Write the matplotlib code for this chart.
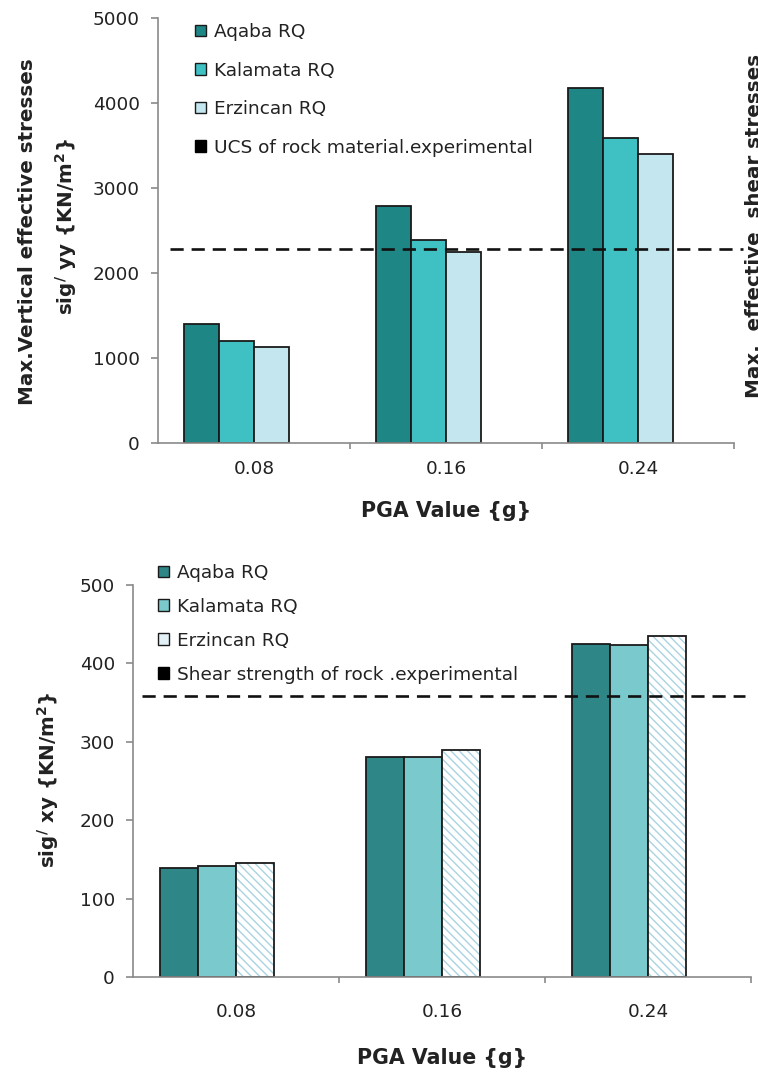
import matplotlib
matplotlib.use("Agg")
import matplotlib.pyplot as plt
from matplotlib.patches import Patch
import numpy as np

plt.rcParams["font.family"] = "DejaVu Sans"
plt.rcParams["mathtext.default"] = "bf"

pga_labels = ["0.08", "0.16", "0.24"]
series_names = ["Aqaba RQ", "Kalamata RQ", "Erzincan RQ"]

# top chart: max vertical effective stress {KN/m2}
sig_yy_aqaba = [1400, 2790, 4180]
sig_yy_kalamata = [1200, 2390, 3590]
sig_yy_erzincan = [1130, 2250, 3400]
ucs_rock = 2280

# bottom chart: max effective shear stress {KN/m2}
sig_xy_aqaba = [139, 281, 425]
sig_xy_kalamata = [141, 281, 424]
sig_xy_erzincan = [146, 289, 435]
shear_strength_rock = 358

EDGE = "#1a1a1a"
SPINE = "#8a8a8a"
TXT = "#222222"

W, H = 758, 1074
fig = plt.figure(figsize=(W / 100, H / 100), dpi=100)


def px_axes(left, top, right, bottom):
    '''axes from pixel box (origin top-left)'''
    return fig.add_axes([left / W, 1 - bottom / H, (right - left) / W, (bottom - top) / H])


def style_axes(ax, ymax, ystep, xpad, labelpad):
    for s in ["top", "right"]:
        ax.spines[s].set_visible(False)
    for s in ["left", "bottom"]:
        ax.spines[s].set_color(SPINE)
        ax.spines[s].set_linewidth(1.2)
    ax.set_xlim(0, 3)
    ax.set_ylim(0, ymax)
    ax.set_yticks(np.arange(0, ymax + 1, ystep))
    ax.tick_params(axis="y", direction="out", length=5, width=1.2, color=SPINE,
                   labelsize=13.3, labelcolor=TXT, pad=8)
    ax.set_xticks(np.arange(3) + 0.5)
    ax.set_xticklabels(pga_labels)
    ax.tick_params(axis="x", which="major", length=0, labelsize=13.3, labelcolor=TXT, pad=xpad)
    ax.set_xticks([1, 2, 3], minor=True)
    ax.tick_params(axis="x", which="minor", direction="out", length=4, width=1.2, color=SPINE)
    ax.set_xlabel("PGA Value {g}", fontsize=14.8, fontweight="bold", color=TXT,
                  labelpad=labelpad)


def draw_bars(ax, values, colors, w, hatched_last=False):
    base = np.arange(3) + 0.5
    for k, (vals, col) in enumerate(zip(values, colors)):
        x = base + (k - 1.5) * w
        if hatched_last and k == 2:
            ax.bar(x, vals, w, color="white", edgecolor="#a9d3e0", hatch="\\\\\\\\", lw=0, zorder=2)
            ax.bar(x, vals, w, fill=False, edgecolor=EDGE, lw=1.3, zorder=2)
        else:
            ax.bar(x, vals, w, color=col, edgecolor=EDGE, lw=1.3, zorder=2)


# ---------- top chart ----------
ax1 = px_axes(158, 18, 734, 443)
style_axes(ax1, 5000, 1000, xpad=12, labelpad=17)
top_colors = ["#1f8686", "#3fc1c4", "#c4e7ef"]
draw_bars(ax1, [sig_yy_aqaba, sig_yy_kalamata, sig_yy_erzincan], top_colors, 0.182)
ax1.axhline(ucs_rock, xmin=0.02, xmax=1.016, color="#111111", lw=1.9,
            ls=(0, (5, 3)), clip_on=False, zorder=3)

h1 = [Patch(facecolor=c, edgecolor=EDGE, lw=1) for c in top_colors]
h1.append(Patch(facecolor="black", edgecolor="black"))
ax1.legend(h1, series_names + ["UCS of rock material.experimental"],
           loc="upper left", bbox_to_anchor=(195 / W, 1 - 23 / H),
           bbox_transform=fig.transFigure, frameon=False, fontsize=13.3,
           handlelength=0.62, handleheight=0.62, handletextpad=0.4,
           labelspacing=1.11, borderpad=0, borderaxespad=0, labelcolor=TXT)

fig.text(28 / W, 1 - 232 / H, "Max.Vertical effective stresses", rotation=90,
         ha="center", va="center", fontsize=14.3, fontweight="bold", color=TXT)
fig.text(66 / W, 1 - 227 / H, r"sig$^{/}$ yy {KN/m$^{2}$}", rotation=90,
         ha="center", va="center", fontsize=14.3, fontweight="bold", color=TXT)
# cut-off label of the neighbouring figure (it is cut at the edge in the source too)
fig.text(745 / W, 1 - 398 / H, "Max.  effective  shear stresses", rotation=90,
         ha="left", va="bottom", fontsize=14.3, fontweight="bold", color=TXT)

# ---------- bottom chart ----------
ax2 = px_axes(133, 585, 751, 977)
style_axes(ax2, 500, 100, xpad=19, labelpad=19)
bot_colors = ["#2e8686", "#7ac9cc", "white"]
draw_bars(ax2, [sig_xy_aqaba, sig_xy_kalamata, sig_xy_erzincan], bot_colors, 0.184,
          hatched_last=True)
ax2.axhline(shear_strength_rock, xmin=0.015, xmax=0.99, color="#111111", lw=1.9,
            ls=(0, (5, 3)), clip_on=False, zorder=3)

h2 = [Patch(facecolor=c, edgecolor=EDGE, lw=1) for c in ["#2e8686", "#7ac9cc", "#e3f1f6"]]
h2.append(Patch(facecolor="black", edgecolor="black"))
ax2.legend(h2, series_names + ["Shear strength of rock .experimental"],
           loc="upper left", bbox_to_anchor=(158 / W, 1 - 564 / H),
           bbox_transform=fig.transFigure, frameon=False, fontsize=13.3,
           handlelength=0.62, handleheight=0.62, handletextpad=0.4,
           labelspacing=0.86, borderpad=0, borderaxespad=0, labelcolor=TXT)

fig.text(48 / W, 1 - 780 / H, r"sig$^{/}$ xy {KN/m$^{2}$}", rotation=90,
         ha="center", va="center", fontsize=14.3, fontweight="bold", color=TXT)

fig.savefig("out.png", dpi=100)
